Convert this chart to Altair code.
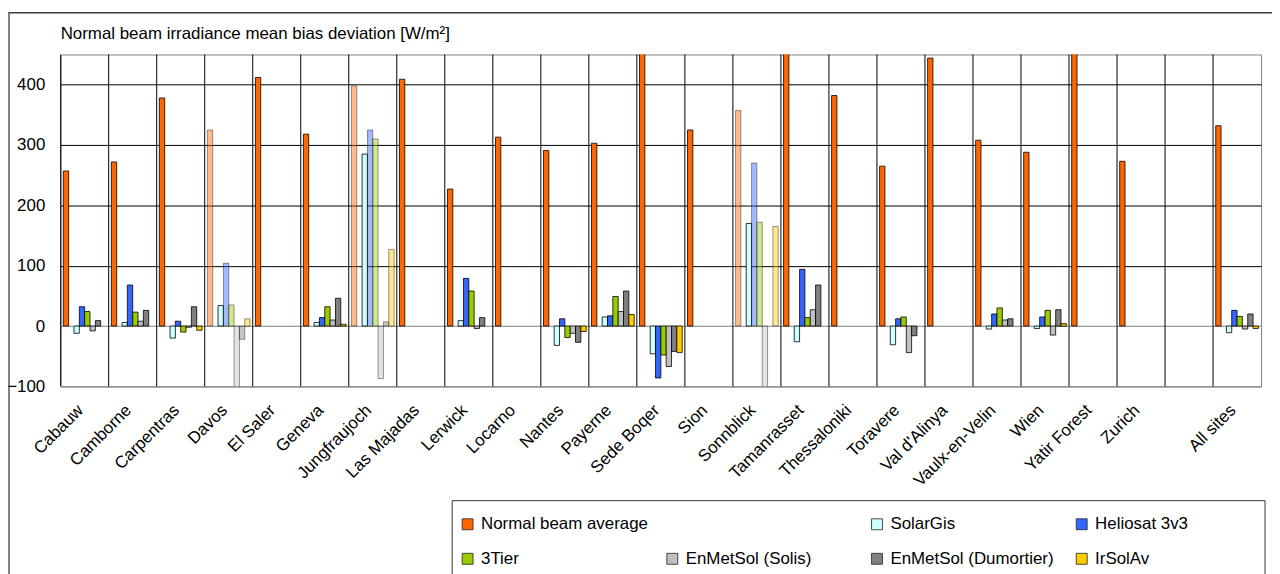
import altair as alt
import pandas as pd

categories = ["Cabauw", "Camborne", "Carpentras", "Davos", "El Saler", "Geneva",
              "Jungfraujoch", "Las Majadas", "Lerwick", "Locarno", "Nantes", "Payerne",
              "Sede Boqer", "Sion", "Sonnblick", "Tamanrasset", "Thessaloniki", "Toravere",
              "Val d'Alinya", "Vaulx-en-Velin", "Wien", "Yatir Forest", "Zurich", " ", "All sites"]

series_names = ["Normal beam average", " ", "SolarGis", "Heliosat 3v3", "3Tier",
                "EnMetSol (Solis)", "EnMetSol (Dumortier)", "IrSolAv"]
series_colors = ["#FF6600", "transparent", "#CCFFFF", "#3366FF", "#99CC00",
                 "#C0C0C0", "#808080", "#FFCC00"]

normal_beam = [257, 272, 378, 325, 412, 318, 398, 409, 227, 313, 291, 303,
               470, 325, 357, 480, 382, 265, 444, 308, 288, 490, 273, None, 332]
solargis = [-12, 6, -20, 34, None, 6, 285, None, 9, None, -32, 15,
            -46, None, 170, -26, None, -31, None, -5, -4, None, None, None, -11]
heliosat = [32, 68, 8, 104, None, 14, 325, None, 79, None, 12, 17,
            -86, None, 270, 94, None, 12, None, 20, 15, None, None, None, 26]
tier3 = [24, 23, -10, 35, None, 32, 310, None, 58, None, -19, 49,
         -48, None, 172, 14, None, 15, None, 30, 26, None, None, None, 16]
solis = [-8, 8, -2, -112, None, 10, -87, None, -4, None, -12, 24,
         -67, None, -118, 27, None, -44, None, 10, -15, None, None, None, -5]
dumortier = [9, 26, 32, -22, None, 46, 7, None, 14, None, -27, 58,
             -42, None, None, 68, None, -16, None, 12, 27, None, None, None, 20]
irsolav = [None, None, -7, 12, None, 3, 127, None, None, None, -9, 19,
           -44, None, 165, None, None, None, None, None, 4, None, None, None, -4]

hatched_sites = ["Davos", "Jungfraujoch", "Sonnblick"]
hatched_series = ["Normal beam average", "Heliosat 3v3", "3Tier", "EnMetSol (Solis)",
                  "EnMetSol (Dumortier)", "IrSolAv"]

series_values = {
    "Normal beam average": normal_beam,
    "SolarGis": solargis,
    "Heliosat 3v3": heliosat,
    "3Tier": tier3,
    "EnMetSol (Solis)": solis,
    "EnMetSol (Dumortier)": dumortier,
    "IrSolAv": irsolav,
}

rows = []
for name, vals in series_values.items():
    for site, v in zip(categories, vals):
        if v is None:
            continue
        rows.append({"site": site, "series": name, "value": v,
                     "hatched": int(site in hatched_sites and name in hatched_series)})
df = pd.DataFrame(rows)
grid_df = pd.DataFrame({"site": categories})

FONT = "Liberation Sans"
FS = 17

x_scale = alt.Scale(domain=categories, paddingInner=0, paddingOuter=0)
x_axis = alt.Axis(title=None, labelAngle=-45, labelAlign="right", labelBaseline="middle",
                  labelPadding=21, labelOffset=-4, domain=False, ticks=False, grid=False,
                  labelFontSize=FS, labelFont=FONT, labelColor="black", labelLimit=300)

vgrid = alt.Chart(grid_df).mark_rule(color="black", strokeWidth=1).encode(
    x=alt.X("site:N", bandPosition=0, scale=x_scale, axis=x_axis)
)

bars = alt.Chart(df).mark_bar(clip=True, stroke="black", strokeWidth=0.8).encode(
    x=alt.X("site:N", scale=x_scale, axis=x_axis),
    xOffset=alt.XOffset("series:N", scale=alt.Scale(domain=series_names, paddingInner=0,
                                                     paddingOuter=0.5)),
    y=alt.Y("value:Q", scale=alt.Scale(domain=[-100, 450], nice=False),
            axis=alt.Axis(title=None, values=[-100, 0, 100, 200, 300, 400],
                          domain=False, ticks=False, labelPadding=16,
                          labelFontSize=FS, labelFont=FONT, labelColor="black",
                          gridColor=alt.condition("datum.value == 0 || datum.value == -100",
                                                  alt.value("#808080"), alt.value("black")),
                          gridWidth=1)),
    color=alt.Color("series:N", scale=alt.Scale(domain=series_names, range=series_colors),
                    legend=alt.Legend(title=None, orient="none", legendX=391, legendY=454,
                                      columns=4, direction="horizontal",
                                      symbolType="square", symbolSize=121,
                                      symbolStrokeColor=alt.expr("datum.value == ' ' ? 'transparent' : '#222'"),
                                      symbolStrokeWidth=0.8,
                                      labelFontSize=FS, labelFont=FONT, labelColor="black",
                                      labelOffset=5, columnPadding=15, rowPadding=17,
                                      padding=10, gridAlign="all", labelLimit=400)),
    fillOpacity=alt.condition("datum.hatched == 1", alt.value(0.45), alt.value(1.0)),
    strokeOpacity=alt.condition("datum.hatched == 1", alt.value(0.5), alt.value(1.0)),
)

# decorative outer chart frame and legend box
frame = alt.Chart(alt.Data(values=[{}])).mark_rect(
    fill="transparent", stroke="#404040", strokeWidth=1.3, clip=False
).encode(
    x=alt.value(-52), x2=alt.value(1260), y=alt.value(-42), y2=alt.value(640)
)
legend_box = alt.Chart(alt.Data(values=[{}])).mark_rect(
    fill="white", stroke="#333333", strokeWidth=1, clip=False
).encode(
    x=alt.value(394), x2=alt.value(1212), y=alt.value(449), y2=alt.value(640)
)

chart = alt.layer(vgrid, bars, frame, legend_box).properties(
    width=1208,
    height=334,
    title=alt.TitleParams("Normal beam irradiance mean bias deviation [W/m²]",
                          anchor="start", frame="group", offset=-31, fontSize=FS,
                          font=FONT, fontWeight="normal", color="black"),
    autosize=alt.AutoSizeParams(type="none"),
    padding={"left": 53, "top": 45, "right": 11, "bottom": 187},
).configure_view(stroke="#808080", strokeWidth=1)

chart.save("out.html", embed_options={"renderer": "svg", "actions": False})
